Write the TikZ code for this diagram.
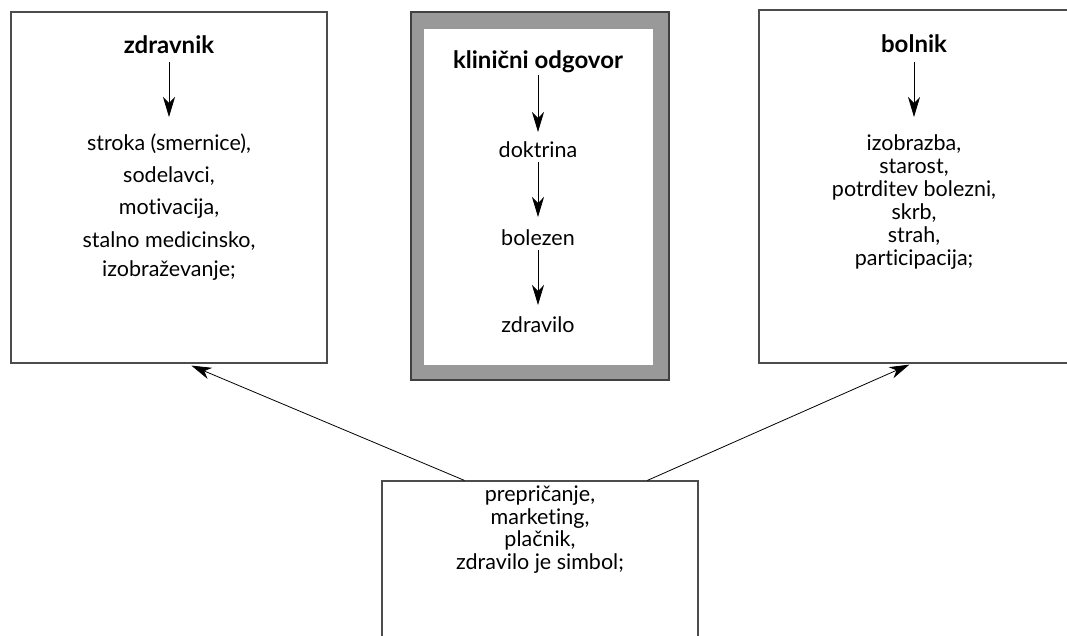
\documentclass[tikz,border=0pt]{standalone}
\usepackage{fontspec}
\setmainfont[Ligatures=NoCommon]{Lato}
\usetikzlibrary{arrows.meta,calc}
\tikzset{
  frame/.style={draw=black!70,line width=1.2pt,fill=white,inner sep=0pt},
  grayframe/.style={draw=black!75,line width=1.2pt,fill=black!40,inner sep=0pt},
  inner/.style={draw=none,fill=white,inner sep=0pt},
  txt/.style={inner sep=0pt,align=center,font=\fontsize{21.5}{23}\selectfont},
  head/.style={inner sep=0pt,font=\fontsize{24}{23}\selectfont\bfseries},
  arr/.style={draw=black,line width=0.8pt,-{Stealth[length=20pt,width=12pt,inset=6pt]}}
}
\begin{document}
\begin{tikzpicture}[x=1pt,y=-1pt]
\clip (0,0) rectangle (1067,635);
\fill[white] (0,0) rectangle (1067,635);
% boxes
\node[frame,minimum width=316pt,minimum height=351pt] (zbox) at (169,187.5) {};
\node[grayframe,minimum width=258pt,minimum height=368pt] (kbox) at (540,196) {};
\node[inner,minimum width=229pt,minimum height=336pt] (kin) at (538.5,197) {};
\node[frame,minimum width=316pt,minimum height=353pt] (bbox) at (917,186.5) {};
\node[frame,minimum width=316pt,minimum height=351pt] (pbox) at (540,656.5) {};
% left box
\node[head,anchor=base] (zh) at (169,53) {zdravnik};
\node[txt,anchor=north,font=\fontsize{21.5}{32}\selectfont] (zl) at (169,133.5)
  {stroka (smernice),\\ sodelavci,\\ motivacija,\\[1pt] stalno medicinsko,\\[-3pt] izobraževanje;};
\draw[arr] ($(zh.base)+(0,9)$) -- ($(zl.north)+(0,-16.5)$);
% middle box
\node[head,anchor=base] (kh) at (538,68) {klinični odgovor};
\node[txt,anchor=base] (k1) at (538,157) {doktrina};
\node[txt,anchor=base] (k2) at (538,245) {bolezen};
\node[txt,anchor=base] (k3) at (538,332) {zdravilo};
\draw[arr] ($(kh.base)+(0,7)$) -- ($(k1.base)+(0,-25)$);
\draw[arr] ($(k1.base)+(0,5)$) -- ($(k2.base)+(0,-28)$);
\draw[arr] ($(k2.base)+(0,5)$) -- ($(k3.base)+(0,-27)$);
% right box
\node[head,anchor=base] (bh) at (914,52) {bolnik};
\node[txt,anchor=north] (bl) at (914,134.5)
  {izobrazba,\\ starost,\\ potrditev bolezni,\\ skrb,\\ strah,\\ participacija;};
\draw[arr] ($(bh.base)+(0,10)$) -- ($(bl.north)+(0,-17.5)$);
% bottom box
\node[txt,anchor=north,font=\fontsize{21.5}{22.5}\selectfont] (pl) at (540,486)
  {prepričanje,\\ marketing,\\ plačnik,\\ zdravilo je simbol;};
% diagonal connectors
\draw[arr] ($(pbox.north west)+(83,0)$) -- ($(zbox.south west)+(181,2)$);
\draw[arr] ($(pbox.north west)+(266,0)$) -- ($(bbox.south west)+(151,1)$);
\end{tikzpicture}
\end{document}
